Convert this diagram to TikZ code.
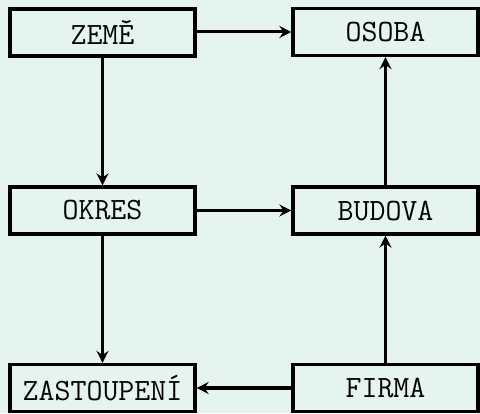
\documentclass[tikz,border=0pt]{standalone}
\usepackage{fontspec}
\usetikzlibrary{arrows.meta}
\definecolor{paper}{RGB}{229,244,238}
\begin{document}
\begin{tikzpicture}[x=1pt,y=1pt,
  entity/.style={draw=black, line width=3.2pt, fill=paper,
    minimum width=185pt, minimum height=47pt, inner sep=0pt,
    font=\ttfamily\fontsize{31}{36}\selectfont},
  link/.style={line width=3pt, -{Stealth[length=12pt,width=12pt,inset=4pt]}}]
  % canvas
  \fill[paper] (0,0) rectangle (480,413);
  \useasboundingbox (0,0) rectangle (480,413);

  % entities
  \node[entity] (zeme)  at (102.5,380.5) {ZEMĚ};
  \node[entity] (osoba) at (385.5,381) {OSOBA};
  \node[entity] (okres) at (102.5,202.5) {OKRES};
  \node[entity] (budova) at (385.5,202.5) {BUDOVA};
  \node[entity] (zast)  at (102.5,25) {ZASTOUPENÍ};
  \node[entity] (firma) at (385.5,25) {FIRMA};

  % relations
  \draw[link] (zeme.east |- osoba.west) -- (osoba.west);
  \draw[link] (zeme) -- (okres);
  \draw[link] (okres) -- (budova);
  \draw[link] (okres) -- (zast);
  \draw[link] (budova) -- (osoba);
  \draw[link] (firma) -- (budova);
  \draw[link] (firma) -- (zast);
\end{tikzpicture}
\end{document}
